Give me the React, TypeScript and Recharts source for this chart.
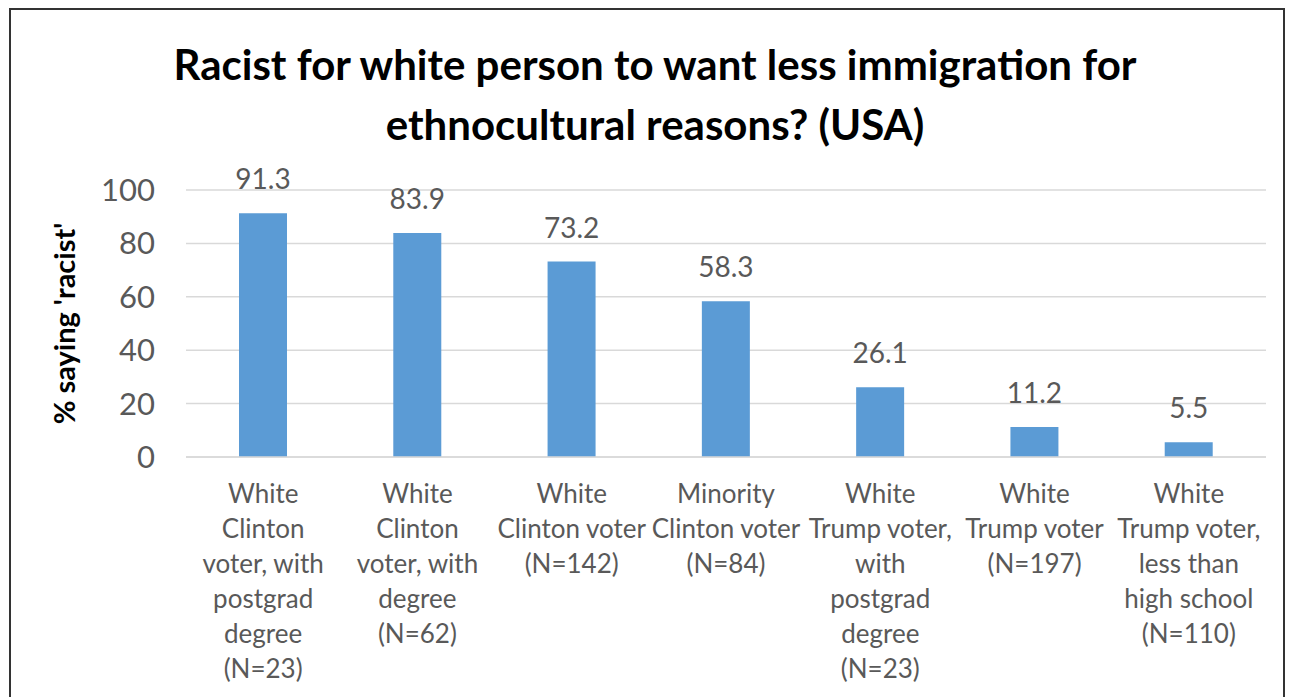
import { Bar, BarChart, CartesianGrid, LabelList, XAxis, YAxis } from "recharts";

const categories = [
  "White\nClinton\nvoter, with\npostgrad\ndegree\n(N=23)",
  "White\nClinton\nvoter, with\ndegree\n(N=62)",
  "White\nClinton voter\n(N=142)",
  "Minority\nClinton voter\n(N=84)",
  "White\nTrump voter,\nwith\npostgrad\ndegree\n(N=23)",
  "White\nTrump voter\n(N=197)",
  "White\nTrump voter,\nless than\nhigh school\n(N=110)",
];

const racistPct = [91.3, 83.9, 73.2, 58.3, 26.1, 11.2, 5.5];

const yTicks = [0, 20, 40, 60, 80, 100];

const titleLines = [
  "Racist for white person to want less immigration for",
  "ethnocultural reasons? (USA)",
];

const data = categories.map((label, i) => ({ label, value: racistPct[i] }));

const FONT = "Lato, 'Open Sans', sans-serif";

function CategoryTick({ x, y, payload }: any) {
  const lines = String(payload.value).split("\n");
  return (
    <text
      x={x}
      y={y}
      textAnchor="middle"
      fill="#595959"
      fontSize={26}
      fontFamily={FONT}
    >
      {lines.map((line, i) => (
        <tspan key={i} x={x} dy={i === 0 ? 38 : 35}>
          {line}
        </tspan>
      ))}
    </text>
  );
}

export default function App() {
  return (
    <div
      style={{
        position: "absolute",
        left: 0,
        top: 0,
        width: 1292,
        height: 697,
        overflow: "hidden",
        background: "#fff",
        fontFamily: FONT,
      }}
    >
      <div
        style={{
          position: "absolute",
          left: 9,
          top: 8,
          width: 1272,
          height: 740,
          border: "2px solid #333",
        }}
      />
      <div
        style={{
          position: "absolute",
          left: 0,
          top: 34,
          width: 1310,
          textAlign: "center",
          fontSize: 42,
          fontWeight: 700,
          lineHeight: "60px",
          color: "#000",
        }}
      >
        {titleLines.map((t) => (
          <div key={t}>{t}</div>
        ))}
      </div>
      <div style={{ position: "absolute", left: 0, top: 0 }}>
        <BarChart
          width={1292}
          height={697}
          data={data}
          margin={{ top: 190, right: 26, bottom: 210, left: 60 }}
          barSize={48}
        >
          <CartesianGrid
            vertical={false}
            stroke="#d9d9d9"
            strokeWidth={1.5}
          />
          <XAxis
            dataKey="label"
            height={30}
            interval={0}
            axisLine={{ stroke: "#d9d9d9", strokeWidth: 1.5 }}
            tickLine={false}
            tick={<CategoryTick />}
          />
          <YAxis
            width={126}
            domain={[0, 100]}
            ticks={yTicks}
            axisLine={false}
            tickLine={false}
            tickMargin={25}
            tick={{ fill: "#595959", fontSize: 31, fontFamily: FONT }}
            label={{
              value: "% saying 'racist'",
              angle: -90,
              position: "insideLeft",
              style: {
                fill: "#000",
                fontSize: 29,
                fontWeight: 700,
                fontFamily: FONT,
                textAnchor: "middle",
              },
            }}
          />
          <Bar dataKey="value" fill="#5B9BD5" isAnimationActive={false}>
            <LabelList
              dataKey="value"
              position="top"
              offset={24}
              fill="#595959"
              fontSize={28}
              fontFamily={FONT}
              formatter={(v: any) => Number(v).toFixed(1)}
            />
          </Bar>
        </BarChart>
      </div>
    </div>
  );
}
